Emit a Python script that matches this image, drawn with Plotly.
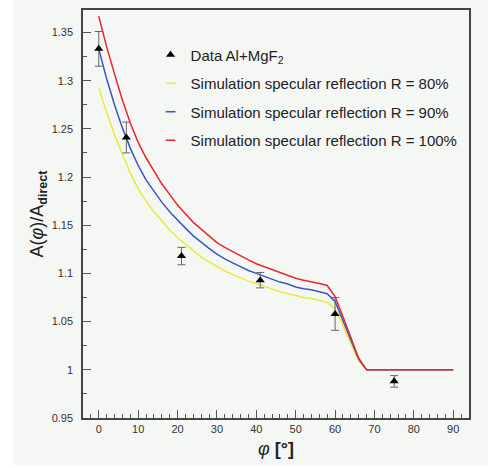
import plotly.graph_objects as go

# ---------------- data ----------------
data_angle = [0, 7, 21, 41, 60, 75]
data_ratio = [1.333, 1.241, 1.118, 1.093, 1.058, 0.988]
data_err = [0.018, 0.016, 0.009, 0.008, 0.017, 0.006]

sim_angle = [0, 2, 4, 6, 8, 10, 12, 14, 16, 18, 20, 22, 24, 26, 28, 30, 32, 34,
             36, 38, 40, 42, 44, 46, 48, 50, 52, 54, 56, 58, 60, 62, 64, 66, 68, 90]
sim_r80 = [1.293, 1.267, 1.244, 1.223, 1.204, 1.188, 1.175, 1.164, 1.154, 1.145,
           1.137, 1.130, 1.123, 1.117, 1.112, 1.107, 1.1025, 1.099, 1.0955, 1.092,
           1.0895, 1.087, 1.084, 1.081, 1.079, 1.0765, 1.075, 1.074, 1.072, 1.070,
           1.063, 1.046, 1.027, 1.009, 1.000, 1.000]
sim_r90 = [1.333, 1.302, 1.275, 1.251, 1.230, 1.212, 1.197, 1.185, 1.174, 1.164,
           1.155, 1.147, 1.139, 1.132, 1.126, 1.120, 1.115, 1.111, 1.107, 1.103,
           1.100, 1.097, 1.094, 1.091, 1.089, 1.086, 1.084, 1.083, 1.081, 1.079,
           1.071, 1.051, 1.030, 1.011, 1.000, 1.000]
sim_r100 = [1.367, 1.335, 1.307, 1.280, 1.256, 1.236, 1.220, 1.206, 1.193, 1.182,
            1.171, 1.162, 1.153, 1.146, 1.139, 1.132, 1.127, 1.1225, 1.118, 1.114,
            1.110, 1.107, 1.1035, 1.1005, 1.098, 1.095, 1.093, 1.0915, 1.0895, 1.0875,
            1.076, 1.055, 1.033, 1.012, 1.000, 1.000]

legend_data = "Data Al+MgF<sub>2</sub>"
legend_sims = ["Simulation specular reflection R = 80%",
               "Simulation specular reflection R = 90%",
               "Simulation specular reflection R = 100%"]
sim_colors = ["#eaea3a", "#3a56c4", "#ec2430"]

x_ticks = [0, 10, 20, 30, 40, 50, 60, 70, 80, 90]
y_ticks = [0.95, 1.0, 1.05, 1.1, 1.15, 1.2, 1.25, 1.3, 1.35]
y_ticklabels = ["0.95", "1", "1.05", "1.1", "1.15", "1.2", "1.25", "1.3", "1.35"]

BG = "#f5f7f4"

fig = go.Figure()

# simulation curves (no legend; legend uses short-symbol proxies)
for ys, col in zip([sim_r80, sim_r90, sim_r100], sim_colors):
    fig.add_trace(go.Scatter(x=sim_angle, y=ys, mode="lines",
                             line=dict(color=col, width=1.5),
                             showlegend=False, hoverinfo="skip"))

# data points
fig.add_trace(go.Scatter(
    x=data_angle, y=data_ratio, mode="markers", name=legend_data,
    marker=dict(symbol="triangle-up", size=8, color="black"),
    error_y=dict(type="data", array=data_err, color="#666666",
                 thickness=1, width=4),
    legendgroup="g0", showlegend=True))

# legend proxies for the simulation lines
for i, (name, col) in enumerate(zip(legend_sims, sim_colors)):
    fig.add_trace(go.Scatter(
        x=[None], y=[None], mode="markers", name=name,
        marker=dict(symbol="line-ew-open", size=7, color=col,
                    line=dict(color=col, width=1.5)),
        legendgroup=f"g{i+1}", showlegend=True))

axis_common = dict(
    showline=True, mirror=True, linecolor="#444444", linewidth=1.5,
    ticks="inside", ticklen=8, tickwidth=1, tickcolor="#555555",
    showgrid=False, zeroline=False, automargin=False,
    tickfont=dict(family="Liberation Sans, Arial", size=11, color="#333333"),
)

fig.update_layout(
    width=488, height=468,
    margin=dict(l=83, r=19, t=10, b=50),
    paper_bgcolor="white", plot_bgcolor=BG,
    showlegend=True,
    legend=dict(x=0.175, y=0.930, xanchor="left", yanchor="top",
                bgcolor="rgba(0,0,0,0)", borderwidth=0,
                traceorder="grouped", tracegroupgap=6,
                itemwidth=30,
                font=dict(family="Liberation Sans, Arial", size=15,
                          color="#222222")),
    xaxis=dict(range=[-4, 94], tickvals=x_ticks,
               minor=dict(dtick=2, ticks="inside", ticklen=4,
                          tickcolor="#555555"),
               title=dict(text="<i>φ</i> <b>[°]</b>", standoff=8,
                          font=dict(family="Liberation Sans, Arial",
                                    size=18, color="#222222")),
               **axis_common),
    yaxis=dict(range=[0.95, 1.3733], tickvals=y_ticks, ticktext=y_ticklabels,
               ticklabelstandoff=6,
               minor=dict(dtick=0.025, ticks="inside", ticklen=4,
                          tickcolor="#555555"),
               title=dict(text="A(<i>φ</i>)/A<sub><b>direct</b></sub>",
                          standoff=3,
                          font=dict(family="Liberation Sans, Arial",
                                    size=18, color="#222222")),
               **axis_common),
    shapes=[dict(type="rect", xref="paper", yref="paper",
                 x0=(13 - 83) / 386, x1=(488 - 83) / 386,
                 y0=-(465 - 418) / 408, y1=1 + 10 / 408,
                 fillcolor=BG, line=dict(width=0), layer="below")],
)

fig.write_html("out.html",
               config={"displayModeBar": False},
               post_script="document.body.style.margin='0';document.body.style.padding='0';")
